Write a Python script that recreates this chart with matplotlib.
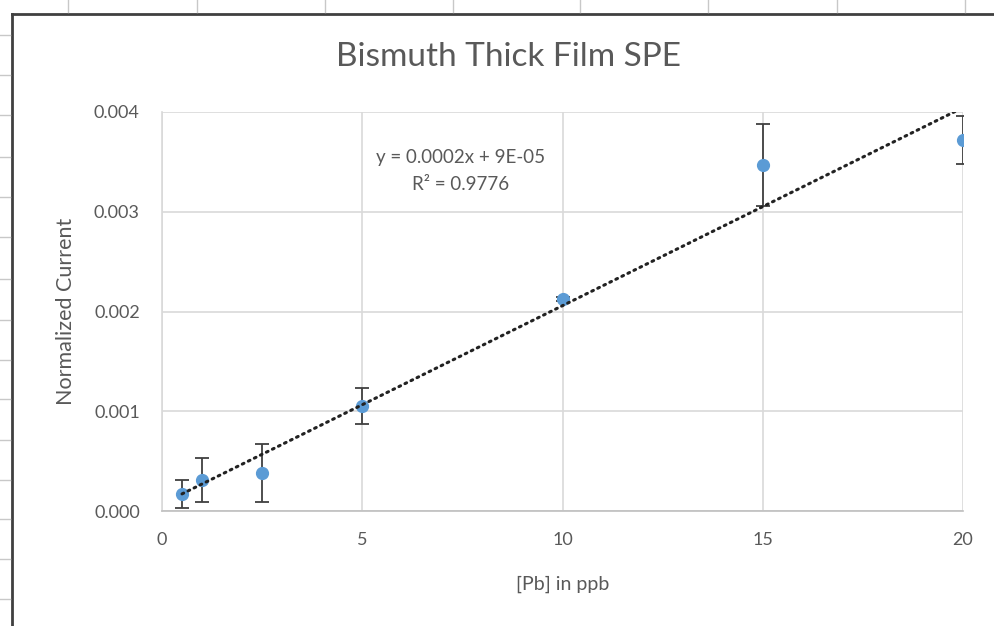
import matplotlib
matplotlib.use("Agg")
import matplotlib.pyplot as plt
import numpy as np
from matplotlib.lines import Line2D

plt.rcParams['font.family'] = ['Lato', 'DejaVu Sans']

conc = [0.5, 1, 2.5, 5, 10, 15, 20]
current = [0.00017, 0.00031, 0.00038, 0.00105, 0.00213, 0.00347, 0.00372]
err = [0.00014, 0.00022, 0.00029, 0.00018, 0.00002, 0.00041, 0.00024]
xticks = [0, 5, 10, 15, 20]
yticks = [0.000, 0.001, 0.002, 0.003, 0.004]
title = "Bismuth Thick Film SPE"
eq_text = "y = 0.0002x + 9E-05\nR² = 0.9776"

txt = '#595959'
fig = plt.figure(figsize=(9.94, 6.26), dpi=100)
ax = fig.add_axes([162/994, 1-511/626, (963-162)/994, (511-112)/626])

ax.set_xlim(0, 20)
ax.set_ylim(0, 0.004)
ax.set_xticks(xticks)
ax.set_yticks(yticks)
ax.set_yticklabels([f"{v:.3f}" for v in yticks])
ax.grid(True, color='#d9d9d9', linewidth=1.2)
ax.set_axisbelow(True)
for s in ['top', 'right']:
    ax.spines[s].set_visible(False)
ax.spines['left'].set_color('#d9d9d9')
ax.spines['bottom'].set_color('#bfbfbf')
ax.spines['left'].set_linewidth(1.2)
ax.spines['bottom'].set_linewidth(1.2)
ax.tick_params(length=0, labelsize=13, colors=txt)
ax.tick_params(axis='x', pad=15)
ax.tick_params(axis='y', pad=16)

# trendline fit
coef = np.polyfit(conc, current, 1)
xs = np.array([min(conc), max(conc)])
ax.plot(xs, np.polyval(coef, xs), linestyle=(0, (0.6, 1.6)), color='#222222',
        linewidth=2.2, dash_capstyle='round', zorder=4)

ax.errorbar(conc, current, yerr=err, fmt='o', color='#5b9bd5', markersize=8.5,
            ecolor='#404040', elinewidth=1.3, capsize=5, capthick=1.3, zorder=3)

ax.text(7.45, 0.00341, eq_text, ha='center', va='center', fontsize=13.5,
        color=txt, linespacing=1.75)

fig.text(508/994, 1-57/626, title, ha='center', va='center', fontsize=24, color=txt)
ax.set_xlabel("[Pb] in ppb", fontsize=14, color=txt, labelpad=20)
ax.set_ylabel("Normalized Current", fontsize=15.5, color=txt, labelpad=13)

# chart frame and spreadsheet grid marks
fig.add_artist(Line2D([12/994, 12/994], [0, 1-14/626], transform=fig.transFigure,
                      color='#404040', linewidth=2))
fig.add_artist(Line2D([12/994, 1], [1-14/626, 1-14/626], transform=fig.transFigure,
                      color='#404040', linewidth=2))
for xp in [68, 197, 325, 453, 580, 708, 837, 965]:
    fig.add_artist(Line2D([xp/994, xp/994], [1, 1-12/626], transform=fig.transFigure,
                          color='#c8c8c8', linewidth=1))
for yp in [35, 75, 115, 157, 197, 237, 279, 320, 360, 399, 440, 480, 519, 559, 599]:
    fig.add_artist(Line2D([0, 10/994], [1-yp/626, 1-yp/626], transform=fig.transFigure,
                          color='#c8c8c8', linewidth=1))

fig.savefig("out.png", dpi=100)
